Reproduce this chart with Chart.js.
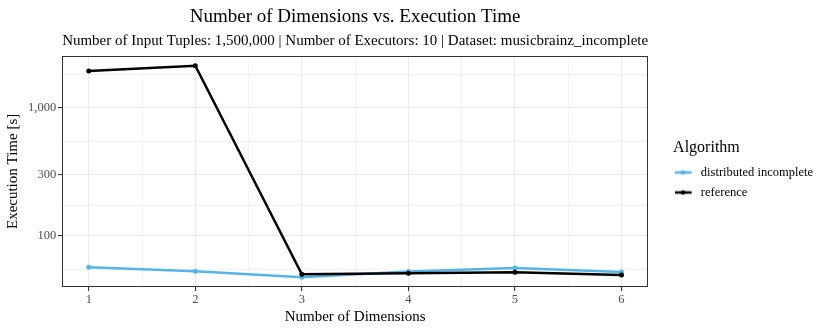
<!DOCTYPE html>
<html lang="en">
<head>
  <meta charset="UTF-8">
  <title>Number of Dimensions vs. Execution Time</title>
  <script src="https://cdn.jsdelivr.net/npm/chart.js"></script>
  <style>
    html, body { margin: 0; padding: 0; background: #fff; }
    .chart-container { position: relative; width: 830px; height: 332px; }
  </style>
</head>
<body>
  <div class="chart-container">
    <canvas id="lineChart"></canvas>
  </div>

  <script>
    // Data
    const dimensions = [1, 2, 3, 4, 5, 6];
    const distributedIncomplete = [56.8, 52.8, 47.4, 52.5, 56.1, 52.1];
    const reference = [1942, 2128, 50, 51, 52, 49.4];
    const yMajorTicks = [100, 300, 1000];
    const yMinorTicks = [54.8, 173.2, 547.7, 1825.7];
    const xMajorTicks = [1, 2, 3, 4, 5, 6];
    const xMinorTicks = [1.5, 2.5, 3.5, 4.5, 5.5];

    const serif = "'Liberation Serif', 'DejaVu Serif', serif";
    const toPoints = ys => dimensions.map((x, i) => ({ x: x, y: ys[i] }));

    // legend key: short line with a dot, like ggplot
    // (canvas is wider than the legend box so the key sits flush with the title)
    function keyGlyph(color) {
      const cv = document.createElement('canvas');
      cv.width = 26; cv.height = 8;
      const g = cv.getContext('2d');
      g.strokeStyle = color;
      g.lineWidth = 2.5;
      g.beginPath(); g.moveTo(0, 4); g.lineTo(17, 4); g.stroke();
      g.fillStyle = color;
      g.beginPath(); g.arc(8.5, 4, 2.3, 0, Math.PI * 2); g.fill();
      return cv;
    }

    // panel border like ggplot theme_bw
    const panelBorder = {
      id: 'panelBorder',
      afterDatasetsDraw(chart) {
        const a = chart.chartArea, c = chart.ctx;
        c.save();
        c.strokeStyle = '#333333';
        c.lineWidth = 1;
        c.strokeRect(Math.round(a.left) + 0.5, Math.round(a.top) + 0.5,
                     Math.round(a.right - a.left) - 1, Math.round(a.bottom - a.top) - 1);
        c.restore();
      }
    };

    const isMajorY = v => yMajorTicks.includes(v);
    const isMajorX = v => xMajorTicks.includes(v);

    const config = {
      type: 'line',
      data: {
        datasets: [{
          label: 'distributed incomplete',
          data: toPoints(distributedIncomplete),
          borderColor: '#56B4E9',
          backgroundColor: '#56B4E9',
          borderWidth: 2.5,
          pointRadius: 2.5,
          pointBorderWidth: 0,
          order: 2
        }, {
          label: 'reference',
          data: toPoints(reference),
          borderColor: '#000000',
          backgroundColor: '#000000',
          borderWidth: 2.5,
          pointRadius: 2.5,
          pointBorderWidth: 0,
          order: 1
        }]
      },
      options: {
        responsive: true,
        maintainAspectRatio: false,
        animation: false,
        layout: { padding: { top: 6, right: 7, left: 4, bottom: 6 } },
        plugins: {
          title: {
            display: true,
            fullSize: false,
            text: 'Number of Dimensions vs. Execution Time',
            color: '#000',
            font: { family: serif, size: 19, weight: 'normal' },
            padding: { top: 0, bottom: 3 }
          },
          subtitle: {
            display: true,
            fullSize: false,
            text: 'Number of Input Tuples: 1,500,000 | Number of Executors: 10 | Dataset: musicbrainz_incomplete',
            color: '#000',
            font: { family: serif, size: 15 },
            padding: { top: 0, bottom: 6 }
          },
          legend: {
            position: 'right',
            align: 'center',
            fullSize: false,
            title: {
              display: true,
              position: 'start',
              text: 'Algorithm',
              color: '#000',
              font: { family: serif, size: 16 },
              padding: { top: 3, bottom: 0 }
            },
            labels: {
              color: '#000',
              font: { family: serif, size: 12.5 },
              usePointStyle: true,
              pointStyleWidth: 14,
              padding: 7.5,
              sort: (a, b) => a.datasetIndex - b.datasetIndex,
              generateLabels: chart => chart.data.datasets.map((ds, i) => ({
                text: ds.label,
                fontColor: '#000',
                pointStyle: keyGlyph(ds.borderColor),
                hidden: false,
                lineWidth: 0,
                datasetIndex: i
              }))
            }
          },
          tooltip: { enabled: false }
        },
        scales: {
          x: {
            type: 'linear',
            min: 0.75,
            max: 6.25,
            afterBuildTicks: s => {
              s.ticks = xMajorTicks.concat(xMinorTicks).map(v => ({ value: v }));
            },
            grid: {
              color: '#EBEBEB',
              lineWidth: c => isMajorX(c.tick.value) ? 1.1 : 0.55,
              tickColor: c => isMajorX(c.tick.value) ? '#333333' : 'rgba(0,0,0,0)',
              tickLength: 4
            },
            border: { display: false },
            ticks: {
              color: '#4D4D4D',
              font: { family: serif, size: 12.5 },
              padding: 1,
              maxRotation: 0,
              autoSkip: false,
              callback: v => isMajorX(v) ? String(v) : ''
            },
            title: {
              display: true,
              text: 'Number of Dimensions',
              color: '#000',
              font: { family: serif, size: 15 },
              padding: { top: 0, bottom: 0 }
            }
          },
          y: {
            type: 'logarithmic',
            min: 39.8,
            max: 2547,
            afterBuildTicks: s => {
              s.ticks = yMajorTicks.concat(yMinorTicks).map(v => ({ value: v }));
            },
            grid: {
              color: '#EBEBEB',
              lineWidth: c => isMajorY(c.tick.value) ? 1.1 : 0.55,
              tickColor: c => isMajorY(c.tick.value) ? '#333333' : 'rgba(0,0,0,0)',
              tickLength: 4
            },
            border: { display: false },
            ticks: {
              color: '#4D4D4D',
              font: { family: serif, size: 12.5 },
              padding: 2,
              autoSkip: false,
              callback: v => isMajorY(v) ? v.toLocaleString('en-US') : ''
            },
            title: {
              display: true,
              text: 'Execution Time [s]',
              color: '#000',
              font: { family: serif, size: 15 },
              padding: { top: 0, bottom: 4 }
            }
          },
          // hidden axis used only as a gap between panel and legend
          gap: {
            type: 'linear',
            position: 'right',
            display: false,
            min: 0,
            max: 1,
            afterFit: s => { s.width = 25; }
          }
        }
      },
      plugins: [panelBorder]
    };

    const ctx = document.getElementById('lineChart').getContext('2d');
    const chart = new Chart(ctx, config);
  </script>
</body>
</html>
